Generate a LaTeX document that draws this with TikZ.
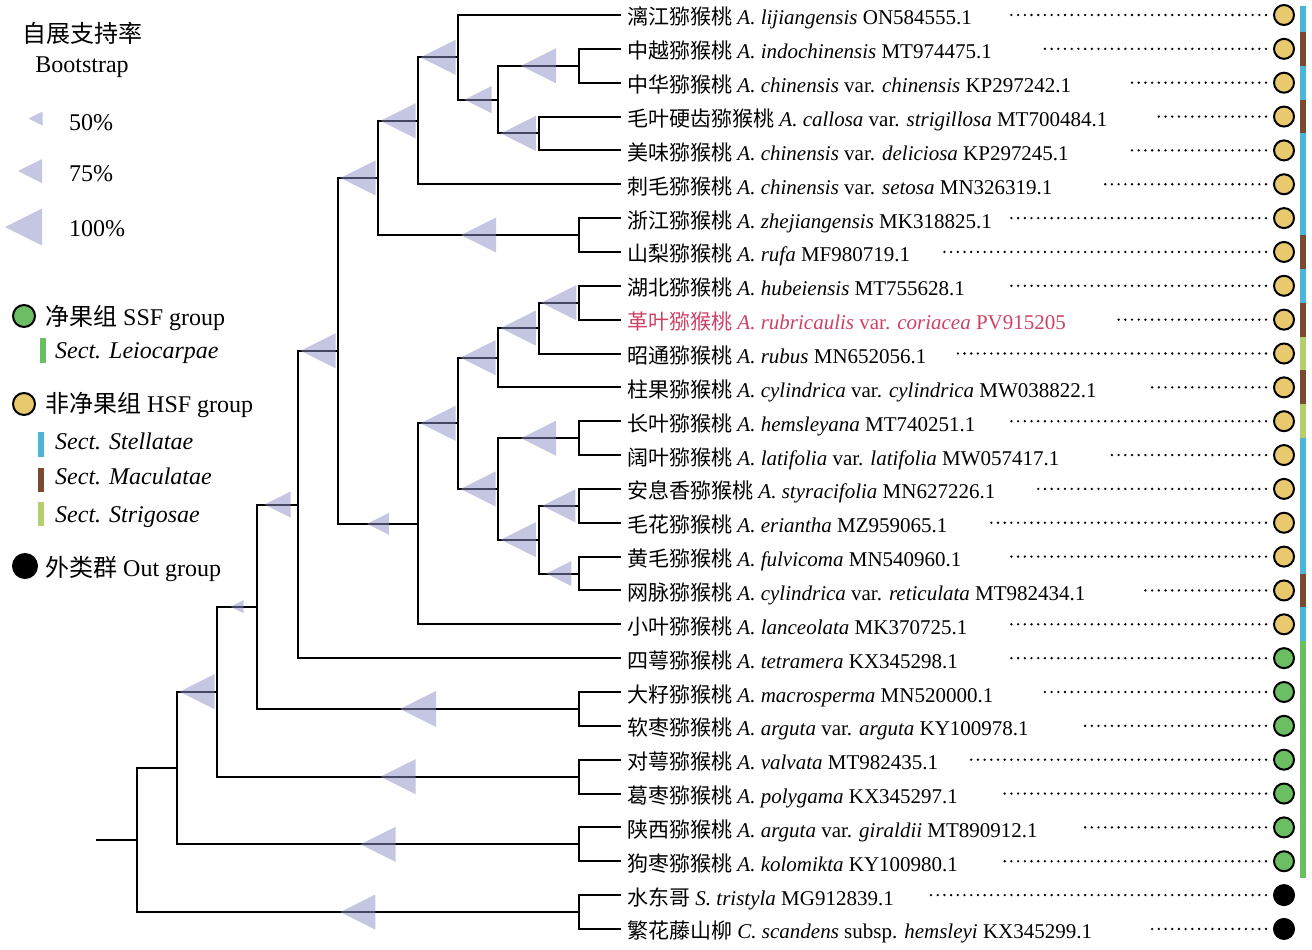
\documentclass[tikz,border=0pt]{standalone}
\usepackage{fontspec}
\setmainfont{Liberation Serif}
\newfontfamily\cjk{Noto Sans CJK SC}
\usetikzlibrary{calc}
\definecolor{hsfc}{RGB}{233,201,110}
\definecolor{ssfc}{RGB}{107,191,98}
\definecolor{stelc}{RGB}{77,181,214}
\definecolor{macc}{RGB}{122,74,47}
\definecolor{strc}{RGB}{179,207,110}
\definecolor{leic}{RGB}{107,191,98}
\definecolor{bootc}{RGB}{140,142,196}
\definecolor{redc}{RGB}{205,65,100}
\tikzset{
  branch/.style={line width=2pt, line cap=rect},
  bootfill/.style={fill=bootc, fill opacity=0.5},
  pics/boot/.style={code={\fill[bootfill] (-#1/2,0) -- (#1/2,-#1/2) -- (#1/2,#1/2) -- cycle;}},
  leaf/.style={anchor=base west, inner sep=0pt, font=\fontsize{21}{25}\selectfont},
  lgtext/.style={inner sep=0pt, font=\fontsize{24}{28}\selectfont},
  circ/.style={circle, draw=black, line width=2pt, minimum size=20pt, inner sep=0pt, outer sep=0pt},
  dotline/.style={line width=2.6pt, dash pattern=on 0pt off 6.7pt, line cap=round}
}
\begin{document}
\begin{tikzpicture}[x=1pt,y=-1pt]
\useasboundingbox (0,0) rectangle (1312,950);
% leaf tips, dotted lines, circles
\foreach \i/\ds/\cc in {1/1010/hsfc,2/1042/hsfc,3/1128/hsfc,4/1158/hsfc,5/1128/hsfc,6/1103/hsfc,7/1010/hsfc,8/943/hsfc,9/1005/hsfc,10/1115/hsfc,11/955/hsfc,12/1147/hsfc,13/1010/hsfc,14/1108/hsfc,15/1035/hsfc,16/990/hsfc,17/1010/hsfc,18/1140/hsfc,19/1008/hsfc,20/1010/ssfc,21/1042/ssfc,22/1082/ssfc,23/968/ssfc,24/1000/ssfc,25/1083/ssfc,26/1002/ssfc,27/927/black,28/1147/black}{
  \coordinate (t\i) at (620,{15+33.85*(\i-1)});
  \coordinate (ds\i) at (\ds,{15+33.85*(\i-1)});
  \node[circ, fill=\cc] (c\i) at (1284,{15+33.85*(\i-1)}) {};
  \draw[dotline, shorten <=8pt] (c\i.west) -- (ds\i);
}
% section bars
\foreach \i/\bc in {1/stelc,2/macc,3/stelc,4/macc,5/stelc,6/stelc,7/stelc,8/macc,9/stelc,10/macc,11/strc,12/macc,13/strc,14/stelc,15/stelc,16/stelc,17/stelc,18/macc,19/stelc,20/leic,21/leic,22/leic,23/leic,24/leic,25/leic,26/leic}{
  \fill[\bc] (1300,{max(6,15+33.85*(\i-1)-16.95)}) rectangle (1306,{15+33.85*(\i-1)+16.95});
}
% internal nodes
\coordinate (root0) at (97,840.01);
\coordinate (R) at (136.5,840.01);
\coordinate (A) at (177,768.0);
\coordinate (B) at (217,691.67);
\coordinate (C) at (257,606.71);
\coordinate (D) at (298,504.5);
\coordinate (E) at (338,350.86);
\coordinate (F) at (378,177.90);
\coordinate (G) at (418,523.81);
\coordinate (H) at (418,120.78);
\coordinate (I) at (458,57.31);
\coordinate (J) at (498,99.63);
\coordinate (K) at (458,423.31);
\coordinate (L) at (498,357.73);
\coordinate (M) at (498,488.9);
\coordinate (N) at (538.5,328.11);
\coordinate (O) at (538.5,539.68);
\coordinate (P45) at (538.5,133.48);
\coordinate (P23) at (579,65.78);
\coordinate (P78) at (579,235.03);
\coordinate (P910) at (579,302.73);
\coordinate (P1314) at (579,438.13);
\coordinate (P1516) at (579,505.83);
\coordinate (P1718) at (579,573.53);
\coordinate (P2122) at (579,708.93);
\coordinate (P2324) at (579,776.63);
\coordinate (P2526) at (579,844.33);
\coordinate (P2728) at (579,912.03);
% branches
\draw[branch] (root0) -- (R);
\foreach \p/\c in {R/A,R/P2728,A/B,A/P2526,B/C,B/P2324,C/D,C/P2122,D/E,D/t20,E/F,E/G,F/H,F/P78,H/I,H/t6,I/t1,I/J,J/P23,J/P45,P23/t2,P23/t3,P45/t4,P45/t5,P78/t7,P78/t8,G/K,G/t19,K/L,K/M,L/N,L/t12,N/P910,N/t11,P910/t9,P910/t10,M/P1314,M/O,P1314/t13,P1314/t14,O/P1516,O/P1718,P1516/t15,P1516/t16,P1718/t17,P1718/t18,P2122/t21,P2122/t22,P2324/t23,P2324/t24,P2526/t25,P2526/t26,P2728/t27,P2728/t28}{
  \draw[branch] (\p) |- (\c);
}
% bootstrap triangles
\foreach \p/\c/\s in {J/P23/35,J/P45/35,I/J/27,H/I/35,F/H/35,E/F/35,F/P78/35,N/P910/35,L/N/35,K/L/35,G/K/35,M/P1314/35,K/M/35,O/P1516/33,M/O/35,O/P1718/25,E/G/22,D/E/35,C/D/26,B/C/13,C/P2122/36,A/B/35,B/P2324/35,A/P2526/35,R/P2728/35}{
  \pic at ($(\p |- \c)!0.5!(\c)$) {boot=\s};
}
% leaf labels
\node[leaf] (l1) at ([shift={(7,10)}]t1) {{\cjk 漓江猕猴桃} \textit{A. lijiangensis} ON584555.1};
\node[leaf] (l2) at ([shift={(7,10)}]t2) {{\cjk 中越猕猴桃} \textit{A. indochinensis} MT974475.1};
\node[leaf] (l3) at ([shift={(7,10)}]t3) {{\cjk 中华猕猴桃} \textit{A. chinensis} var. \textit{chinensis} KP297242.1};
\node[leaf] (l4) at ([shift={(7,10)}]t4) {{\cjk 毛叶硬齿猕猴桃} \textit{A. callosa} var. \textit{strigillosa} MT700484.1};
\node[leaf] (l5) at ([shift={(7,10)}]t5) {{\cjk 美味猕猴桃} \textit{A. chinensis} var. \textit{deliciosa} KP297245.1};
\node[leaf] (l6) at ([shift={(7,10)}]t6) {{\cjk 刺毛猕猴桃} \textit{A. chinensis} var. \textit{setosa} MN326319.1};
\node[leaf] (l7) at ([shift={(7,10)}]t7) {{\cjk 浙江猕猴桃} \textit{A. zhejiangensis} MK318825.1};
\node[leaf] (l8) at ([shift={(7,10)}]t8) {{\cjk 山梨猕猴桃} \textit{A. rufa} MF980719.1};
\node[leaf] (l9) at ([shift={(7,10)}]t9) {{\cjk 湖北猕猴桃} \textit{A. hubeiensis} MT755628.1};
\node[leaf, text=redc] (l10) at ([shift={(7,10)}]t10) {{\cjk 革叶猕猴桃} \textit{A. rubricaulis} var. \textit{coriacea} PV915205};
\node[leaf] (l11) at ([shift={(7,10)}]t11) {{\cjk 昭通猕猴桃} \textit{A. rubus} MN652056.1};
\node[leaf] (l12) at ([shift={(7,10)}]t12) {{\cjk 柱果猕猴桃} \textit{A. cylindrica} var. \textit{cylindrica} MW038822.1};
\node[leaf] (l13) at ([shift={(7,10)}]t13) {{\cjk 长叶猕猴桃} \textit{A. hemsleyana} MT740251.1};
\node[leaf] (l14) at ([shift={(7,10)}]t14) {{\cjk 阔叶猕猴桃} \textit{A. latifolia} var. \textit{latifolia} MW057417.1};
\node[leaf] (l15) at ([shift={(7,10)}]t15) {{\cjk 安息香猕猴桃} \textit{A. styracifolia} MN627226.1};
\node[leaf] (l16) at ([shift={(7,10)}]t16) {{\cjk 毛花猕猴桃} \textit{A. eriantha} MZ959065.1};
\node[leaf] (l17) at ([shift={(7,10)}]t17) {{\cjk 黄毛猕猴桃} \textit{A. fulvicoma} MN540960.1};
\node[leaf] (l18) at ([shift={(7,10)}]t18) {{\cjk 网脉猕猴桃} \textit{A. cylindrica} var. \textit{reticulata} MT982434.1};
\node[leaf] (l19) at ([shift={(7,10)}]t19) {{\cjk 小叶猕猴桃} \textit{A. lanceolata} MK370725.1};
\node[leaf] (l20) at ([shift={(7,10)}]t20) {{\cjk 四萼猕猴桃} \textit{A. tetramera} KX345298.1};
\node[leaf] (l21) at ([shift={(7,10)}]t21) {{\cjk 大籽猕猴桃} \textit{A. macrosperma} MN520000.1};
\node[leaf] (l22) at ([shift={(7,10)}]t22) {{\cjk 软枣猕猴桃} \textit{A. arguta} var. \textit{arguta} KY100978.1};
\node[leaf] (l23) at ([shift={(7,10)}]t23) {{\cjk 对萼猕猴桃} \textit{A. valvata} MT982435.1};
\node[leaf] (l24) at ([shift={(7,10)}]t24) {{\cjk 葛枣猕猴桃} \textit{A. polygama} KX345297.1};
\node[leaf] (l25) at ([shift={(7,10)}]t25) {{\cjk 陕西猕猴桃} \textit{A. arguta} var. \textit{giraldii} MT890912.1};
\node[leaf] (l26) at ([shift={(7,10)}]t26) {{\cjk 狗枣猕猴桃} \textit{A. kolomikta} KY100980.1};
\node[leaf] (l27) at ([shift={(7,10)}]t27) {{\cjk 水东哥} \textit{S. tristyla} MG912839.1};
\node[leaf] (l28) at ([shift={(7,10)}]t28) {{\cjk 繁花藤山柳} \textit{C. scandens} subsp. \textit{hemsleyi} KX345299.1};
% legend
\node[lgtext, anchor=base] (lg1) at (83,43) {\cjk 自展支持率};
\node[lgtext, anchor=base] (lg2) at (82,73) {Bootstrap};
\pic at (35.5,118.5) {boot=14};
\node[lgtext, anchor=base west] (lg50) at (69,130) {50\%};
\pic at (30,171) {boot=24};
\node[lgtext, anchor=base west] (lg75) at (69,181) {75\%};
\pic at (23.5,227) {boot=37};
\node[lgtext, anchor=base west] (lg100) at (69,236) {100\%};
\node[circ, fill=ssfc, minimum size=22pt] (lgs) at (24,316) {};
\node[lgtext, anchor=base west] (lgst) at (45,325) {{\cjk 净果组} SSF group};
\fill[leic] (40,338) rectangle (46,363);
\node[lgtext, anchor=base west] (lgl) at (55,358) {\textit{Sect. Leiocarpae}};
\node[circ, fill=hsfc, minimum size=22pt] (lgh) at (24,404) {};
\node[lgtext, anchor=base west] (lght) at (45,412) {{\cjk 非净果组} HSF group};
\fill[stelc] (38,432) rectangle (44,457);
\node[lgtext, anchor=base west] (lgst2) at (55,449) {\textit{Sect. Stellatae}};
\fill[macc] (38,468) rectangle (44,492);
\node[lgtext, anchor=base west] (lgma) at (55,484) {\textit{Sect. Maculatae}};
\fill[strc] (38,502) rectangle (44,526);
\node[lgtext, anchor=base west] (lgsg) at (55,522) {\textit{Sect. Strigosae}};
\node[circ, fill=black, minimum size=24pt] (lgo) at (25,566) {};
\node[lgtext, anchor=base west] (lgot) at (45,576) {{\cjk 外类群} Out group};
\end{tikzpicture}
\end{document}
